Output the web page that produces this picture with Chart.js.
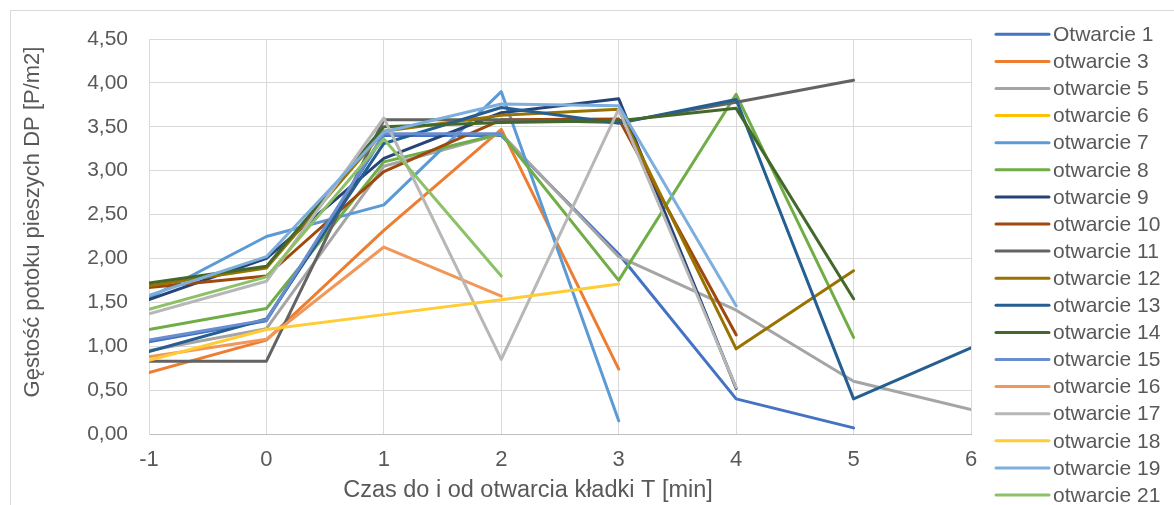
<!DOCTYPE html>
<html>
<head>
<meta charset="utf-8">
<script src="https://cdn.jsdelivr.net/npm/chart.js@4"></script>
<style>
  html, body { margin: 0; padding: 0; background: #fff; }
  #wrap { position: relative; width: 1174px; height: 505px; }
</style>
</head>
<body>
<div id="wrap"><canvas id="densityChart"></canvas></div>
<script>
// time before / after the bridge opening [min]
const minutes = [-1, 0, 1, 2, 3, 4, 5, 6];

// pedestrian flow density [P/m2], one array per opening
const otwarcie1  = [1.05, 1.29, 3.40, 3.40, 2.05, 0.40, 0.07, null];
const otwarcie3  = [0.70, 1.07, 2.32, 3.47, 0.74, null, null, null];
const otwarcie5  = [0.95, 1.20, 3.05, 3.42, 2.02, 1.41, 0.60, 0.28];
const otwarcie6  = [null, null, null, null, null, null, null, null];
const otwarcie7  = [1.55, 2.25, 2.61, 3.90, 0.15, null, null, null];
const otwarcie8  = [1.19, 1.43, 3.10, 3.42, 1.75, 3.87, 1.10, null];
const otwarcie9  = [1.53, 2.00, 3.14, 3.66, 3.82, 0.52, null, null];
const otwarcie10 = [1.67, 1.80, 2.99, 3.58, 3.59, 1.13, null, null];
const otwarcie11 = [0.83, 0.83, 3.58, 3.58, 3.55, 3.78, 4.03, null];
const otwarcie12 = [1.69, 1.89, 3.45, 3.63, 3.70, 0.97, 1.86, null];
const otwarcie13 = [0.94, 1.31, 3.31, 3.72, 3.54, 3.81, 0.40, 0.98];
const otwarcie14 = [1.72, 1.91, 3.50, 3.55, 3.57, 3.71, 1.54, null];
const otwarcie15 = [1.07, 1.30, 3.42, 3.42, null, null, null, null];
const otwarcie16 = [0.88, 1.08, 2.13, 1.57, null, null, null, null];
const otwarcie17 = [1.37, 1.74, 3.60, 0.85, 3.70, 0.53, null, null];
const otwarcie18 = [0.84, 1.19, 1.36, 1.53, 1.71, null, null, null];
const otwarcie19 = [1.58, 2.02, 3.44, 3.76, 3.74, 1.46, null, null];
const otwarcie21 = [1.42, 1.79, 3.36, 1.80, null, null, null, null];

const seriesNames = ['Otwarcie 1', 'otwarcie 3', 'otwarcie 5', 'otwarcie 6', 'otwarcie 7', 'otwarcie 8',
  'otwarcie 9', 'otwarcie 10', 'otwarcie 11', 'otwarcie 12', 'otwarcie 13', 'otwarcie 14',
  'otwarcie 15', 'otwarcie 16', 'otwarcie 17', 'otwarcie 18', 'otwarcie 19', 'otwarcie 21'];
const seriesValues = [otwarcie1, otwarcie3, otwarcie5, otwarcie6, otwarcie7, otwarcie8,
  otwarcie9, otwarcie10, otwarcie11, otwarcie12, otwarcie13, otwarcie14,
  otwarcie15, otwarcie16, otwarcie17, otwarcie18, otwarcie19, otwarcie21];
const seriesColors = ['#4472C4', '#ED7D31', '#A5A5A5', '#FFC000', '#5B9BD5', '#70AD47',
  '#264478', '#9E480E', '#636363', '#997300', '#255E91', '#43682B',
  '#698ED0', '#F1975A', '#B7B7B7', '#FFCD33', '#7CAFDD', '#8CC168'];

const xTitle = 'Czas do i od otwarcia kładki T [min]';
const yTitle = 'Gęstość potoku pieszych DP [P/m2]';

const textColor = '#595959';
const gridColor = '#d9d9d9';
const fontFamily = '"Liberation Sans", Arial, sans-serif';

const datasets = seriesNames.map((name, i) => ({
    label: name,
    data: minutes.map((m, j) => ({ x: m, y: seriesValues[i][j] })),
    borderColor: seriesColors[i],
    backgroundColor: seriesColors[i],
    borderWidth: 3,
    borderJoinStyle: 'round',
    borderCapStyle: 'round',
    pointRadius: 0,
    fill: false,
    tension: 0,
    order: -i   // later series on top, like the spreadsheet
}));

// frame, axis titles and the legend column on the right
const decorations = {
    id: 'decorations',
    beforeDraw(chart) {
        const c = chart.ctx;
        c.save();
        c.fillStyle = '#fff';
        c.fillRect(0, 0, chart.width, chart.height);
        c.strokeStyle = gridColor;
        c.lineWidth = 1;
        c.strokeRect(10.5, 10.5, 1400, 700);
        c.restore();
    },
    afterDraw(chart) {
        const c = chart.ctx;
        const area = chart.chartArea;
        c.save();
        c.fillStyle = textColor;
        c.textBaseline = 'middle';

        c.font = '23.5px ' + fontFamily;
        c.textAlign = 'center';
        c.fillText(xTitle, 528, 491);
        c.font = '22px ' + fontFamily;
        c.save();
        c.translate(33, 222);
        c.rotate(-Math.PI / 2);
        c.fillText(yTitle, 0, 0);
        c.restore();

        c.font = '21px ' + fontFamily;
        c.textAlign = 'left';
        chart.data.datasets.forEach((ds, i) => {
            const y = 34.3 + i * 27.1;
            c.strokeStyle = ds.borderColor;
            c.lineWidth = 3;
            c.lineCap = 'round';
            c.beginPath();
            c.moveTo(area.right + 25, y);
            c.lineTo(area.right + 78, y);
            c.stroke();
            c.fillText(ds.label, area.right + 82, y + 1);
        });
        c.restore();
    }
};

new Chart(document.getElementById('densityChart'), {
    type: 'line',
    data: { datasets: datasets },
    options: {
        responsive: true,
        maintainAspectRatio: false,
        animation: false,
        layout: { padding: { top: 39, right: 203, left: 0, bottom: 0 } },
        plugins: {
            legend: { display: false },
            tooltip: { enabled: false }
        },
        scales: {
            x: {
                type: 'linear',
                min: -1,
                max: 6,
                afterFit(scale) { scale.height = 71; },
                ticks: {
                    stepSize: 1,
                    color: textColor,
                    font: { family: fontFamily, size: 22 },
                    padding: 13
                },
                grid: { color: gridColor, drawTicks: false },
                border: { color: '#bfbfbf', width: 1 }
            },
            y: {
                min: 0,
                max: 4.5,
                afterFit(scale) { scale.width = 149; },
                ticks: {
                    stepSize: 0.5,
                    color: textColor,
                    font: { family: fontFamily, size: 21 },
                    padding: 21,
                    callback: v => v.toFixed(2).replace('.', ',')
                },
                grid: { color: gridColor, drawTicks: false },
                border: { color: gridColor, width: 1 }
            }
        }
    },
    plugins: [decorations]
});
</script>
</body>
</html>
